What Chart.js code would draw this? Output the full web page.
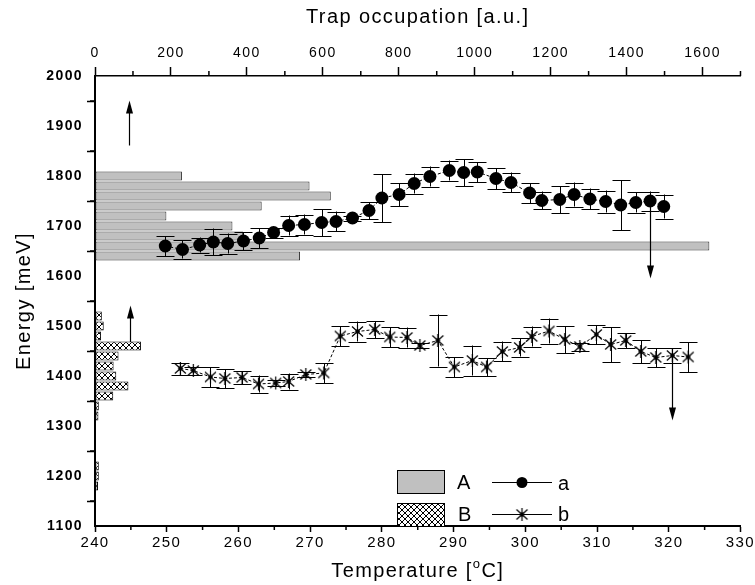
<!DOCTYPE html>
<html>
<head>
<meta charset="utf-8">
<title>Energy vs temperature</title>
<script src="https://cdn.jsdelivr.net/npm/chart.js@4.4.1/dist/chart.umd.min.js"></script>
<style>
  html, body { margin: 0; padding: 0; background: #fff; }
  #wrap { width: 755px; height: 585px; }
</style>
</head>
<body>
<div id="wrap"><canvas id="chart" width="755" height="585"></canvas></div>
<script>
// series a (circles): temperature [C], energy [meV], error [meV]
const tempA = [249.8, 252.2, 254.6, 256.5, 258.5, 260.7, 262.9, 264.9, 267.0, 269.2, 271.6, 273.6, 275.9, 278.2, 280.0, 282.4, 284.5, 286.7, 289.4, 291.4, 293.3, 295.9, 298.0, 300.6, 302.3, 304.8, 306.8, 309.0, 311.2, 313.3, 315.4, 317.4, 319.3];
const energyA = [1660, 1653, 1662, 1668, 1665, 1670, 1676, 1687, 1701, 1703, 1707, 1709, 1716, 1731, 1756, 1763, 1785, 1799, 1811, 1807, 1808, 1795, 1787, 1766, 1751, 1753, 1763, 1754, 1749, 1742, 1747, 1750, 1739];
const errA = [20, 18, 15, 27, 20, 18, 20, 10, 20, 20, 27, 20, 5, 17, 48, 23, 20, 20, 20, 27, 20, 21, 20, 20, 18, 27, 24, 21, 22, 50, 20, 19, 24];

// series b (stars)
const tempB = [251.9, 253.7, 256.1, 258.1, 260.5, 262.8, 265.2, 267.0, 269.4, 271.9, 274.2, 276.6, 279.0, 281.1, 283.5, 285.3, 287.8, 290.1, 292.6, 294.6, 296.8, 299.2, 300.9, 303.3, 305.5, 307.6, 309.9, 311.9, 314.0, 316.1, 318.2, 320.5, 322.7];
const energyB = [1415, 1411, 1398, 1395, 1397, 1384, 1386, 1389, 1403, 1406, 1480, 1489, 1493, 1478, 1477, 1461, 1471, 1418, 1431, 1418, 1449, 1457, 1479, 1490, 1473, 1459, 1483, 1463, 1471, 1449, 1437, 1441, 1438];
const errB = [12, 8, 20, 19, 13, 17, 6, 16, 5, 20, 20, 20, 17, 20, 20, 5, 52, 20, 30, 18, 20, 18, 20, 25, 27, 8, 19, 35, 15, 23, 19, 15, 30];

// trap occupation histograms (top axis)
const levelsA = [1800, 1780, 1760, 1740, 1720, 1700, 1680, 1660, 1640];
const occA = [229, 565, 621, 439, 188, 362, 390, 1618, 540];
const levelsB = [1520, 1500, 1480, 1460, 1440, 1420, 1400, 1380, 1360, 1340, 1320, 1220, 1200, 1180];
const occB = [18, 23, 16, 121, 62, 49, 56, 88, 48, 10, 9, 10, 10, 8];

// arrows: temperature, start energy, end energy
const arrowT = [244.7, 244.9, 317.4, 320.5];
const arrowFrom = [1861, 1468, 1750, 1441];
const arrowTo = [1951, 1541, 1595, 1311];

const FONT = "'Liberation Sans', Arial, Helvetica, sans-serif";

// cross hatch for histogram B
function makeHatch() {
    const c = document.createElement('canvas');
    c.width = 6; c.height = 6;
    const g = c.getContext('2d');
    g.fillStyle = '#fff';
    g.fillRect(0, 0, 6, 6);
    g.strokeStyle = '#000';
    g.lineWidth = 1;
    g.beginPath();
    g.moveTo(0, 0); g.lineTo(6, 6);
    g.moveTo(6, 0); g.lineTo(0, 6);
    g.stroke();
    return document.getElementById('chart').getContext('2d').createPattern(c, 'repeat');
}

// asterisk marker with a dot in the middle
function makeStar() {
    const c = document.createElement('canvas');
    c.width = 15; c.height = 15;
    const g = c.getContext('2d');
    g.strokeStyle = '#000';
    g.lineWidth = 1.2;
    g.beginPath();
    g.moveTo(7.5, 1); g.lineTo(7.5, 14);
    g.moveTo(2, 2.5); g.lineTo(13, 12.5);
    g.moveTo(13, 2.5); g.lineTo(2, 12.5);
    g.stroke();
    g.fillStyle = '#000';
    g.beginPath();
    g.arc(7.5, 7.5, 2.2, 0, Math.PI * 2);
    g.fill();
    return c;
}

const hatch = makeHatch();
const star = makeStar();

function drawArrow(ctx, x, y0, y1) {
    const dir = y1 < y0 ? 1 : -1;
    ctx.beginPath();
    ctx.moveTo(x, y0);
    ctx.lineTo(x, y1 + dir * 10);
    ctx.stroke();
    ctx.beginPath();
    ctx.moveTo(x, y1);
    ctx.lineTo(x - 3.5, y1 + dir * 13);
    ctx.lineTo(x + 3.5, y1 + dir * 13);
    ctx.closePath();
    ctx.fill();
}

const overlay = {
    id: 'overlay',
    beforeDraw(chart) {
        chart.ctx.letterSpacing = '1.4px';
    },
    afterDatasetsDraw(chart) {
        const ctx = chart.ctx;
        const xs = chart.scales.x, ys = chart.scales.y;
        ctx.save();
        ctx.letterSpacing = '0px';
        ctx.strokeStyle = '#000';
        ctx.fillStyle = '#000';
        ctx.lineWidth = 1;
        // error bars
        chart.data.datasets.forEach((ds, di) => {
            if (!ds.errors) return;
            chart.getDatasetMeta(di).data.forEach((pt, i) => {
                const v = ds.data[i].y, e = ds.errors[i];
                const x = Math.round(pt.x) + 0.5;
                const yt = ys.getPixelForValue(v + e), yb = ys.getPixelForValue(v - e);
                ctx.beginPath();
                ctx.moveTo(x, yt); ctx.lineTo(x, yb);
                ctx.moveTo(x - 9, Math.round(yt) + 0.5); ctx.lineTo(x + 9, Math.round(yt) + 0.5);
                ctx.moveTo(x - 9, Math.round(yb) + 0.5); ctx.lineTo(x + 9, Math.round(yb) + 0.5);
                ctx.stroke();
            });
        });
        // arrows
        ctx.lineWidth = 1.2;
        arrowT.forEach((t, i) => {
            drawArrow(ctx, Math.round(xs.getPixelForValue(t)) + 0.5,
                ys.getPixelForValue(arrowFrom[i]), ys.getPixelForValue(arrowTo[i]));
        });
        ctx.restore();
    },
    afterDraw(chart) {
        const ctx = chart.ctx;
        const {x, x2, y} = chart.scales;
        ctx.save();
        ctx.strokeStyle = '#000';
        ctx.fillStyle = '#000';
        ctx.lineWidth = 1.5;
        // minor ticks
        ctx.beginPath();
        for (let v = 245; v < 330; v += 10) {
            const px = x.getPixelForValue(v);
            ctx.moveTo(px, x.top); ctx.lineTo(px, x.top + 4);
        }
        for (let v = 100; v <= 1700; v += 200) {
            const px = x2.getPixelForValue(v);
            ctx.moveTo(px, x2.bottom); ctx.lineTo(px, x2.bottom - 5);
        }
        for (let v = 1150; v < 2000; v += 100) {
            const py = y.getPixelForValue(v);
            ctx.moveTo(y.right, py); ctx.lineTo(y.right - 5, py);
        }
        ctx.stroke();

        // bottom axis title with superscript degree
        ctx.letterSpacing = '1.4px';
        ctx.textBaseline = 'alphabetic';
        ctx.textAlign = 'left';
        const big = '20px ' + FONT, small = '13px ' + FONT;
        ctx.font = big;
        const w1 = ctx.measureText('Temperature [').width;
        const w3 = ctx.measureText('C]').width;
        ctx.font = small;
        const w2 = ctx.measureText('o').width;
        const cx = (x.left + x.right) / 2;
        let sx = cx - (w1 + w2 + w3) / 2;
        const base = 577;
        ctx.font = big;
        ctx.fillText('Temperature [', sx, base);
        ctx.font = small;
        ctx.fillText('o', sx + w1, base - 9);
        ctx.font = big;
        ctx.fillText('C]', sx + w1 + w2, base);

        // legend
        ctx.letterSpacing = '0px';
        ctx.lineWidth = 1;
        ctx.fillStyle = '#c0c0c0';
        ctx.fillRect(397, 470, 47, 23);
        ctx.strokeRect(397.5, 470.5, 47, 23);
        ctx.fillStyle = hatch;
        ctx.fillRect(397, 503, 47, 23);
        ctx.strokeRect(397.5, 503.5, 47, 23);
        ctx.fillStyle = '#000';
        ctx.font = '20px ' + FONT;
        ctx.textBaseline = 'middle';
        ctx.fillText('A', 457, 483);
        ctx.fillText('B', 458, 515);
        ctx.fillText('a', 558, 484);
        ctx.fillText('b', 558, 515);
        ctx.beginPath();
        ctx.moveTo(492, 482.5); ctx.lineTo(552, 482.5);
        ctx.moveTo(492, 514.5); ctx.lineTo(552, 514.5);
        ctx.stroke();
        ctx.beginPath();
        ctx.arc(522, 482.5, 5.5, 0, Math.PI * 2);
        ctx.fill();
        ctx.drawImage(star, 522 - 7.5, 514.5 - 7.5);
        ctx.restore();
    }
};

const tickFont = { family: FONT, size: 14 };
const plain = v => String(v);

new Chart(document.getElementById('chart'), {
    type: 'line',
    data: {
        datasets: [
            {
                type: 'line',
                label: 'a',
                data: tempA.map((t, i) => ({ x: t, y: energyA[i] })),
                errors: errA,
                xAxisID: 'x',
                yAxisID: 'y',
                borderColor: '#000',
                borderWidth: 1,
                borderDash: [3, 2],
                pointStyle: 'circle',
                pointRadius: 6.5,
                pointBackgroundColor: '#000',
                pointBorderColor: '#000',
                pointBorderWidth: 0,
                fill: false,
                tension: 0,
                order: 1
            },
            {
                type: 'line',
                label: 'b',
                data: tempB.map((t, i) => ({ x: t, y: energyB[i] })),
                errors: errB,
                xAxisID: 'x',
                yAxisID: 'y',
                borderColor: '#000',
                borderWidth: 1,
                borderDash: [3, 2],
                pointStyle: star,
                pointRadius: 7,
                fill: false,
                tension: 0,
                order: 1
            },
            {
                type: 'bar',
                label: 'A',
                indexAxis: 'y',
                data: levelsA.map((e, i) => ({ x: occA[i], y: e })),
                xAxisID: 'x2',
                yAxisID: 'y',
                grouped: false,
                categoryPercentage: 1,
                barPercentage: 0.9,
                backgroundColor: '#c0c0c0',
                borderColor: '#333',
                borderWidth: 1,
                borderSkipped: false,
                order: 2
            },
            {
                type: 'bar',
                label: 'B',
                indexAxis: 'y',
                data: levelsB.map((e, i) => ({ x: occB[i], y: e })),
                xAxisID: 'x2',
                yAxisID: 'y',
                grouped: false,
                categoryPercentage: 1,
                barPercentage: 0.9,
                backgroundColor: hatch,
                borderColor: '#000',
                borderWidth: 1,
                borderSkipped: false,
                order: 2
            }
        ]
    },
    options: {
        responsive: false,
        animation: false,
        devicePixelRatio: 1,
        events: [],
        layout: { padding: { left: 0, right: 14, top: 0, bottom: 0 } },
        plugins: {
            legend: { display: false },
            tooltip: { enabled: false }
        },
        scales: {
            x: {
                type: 'linear',
                position: 'bottom',
                min: 240,
                max: 330,
                offset: false,
                afterFit: s => { s.height = 59; },
                border: { color: '#000', width: 2 },
                grid: { drawOnChartArea: false, tickLength: 6, tickColor: '#000', tickWidth: 1.5 },
                ticks: { stepSize: 10, color: '#000', font: { family: FONT, size: 15 }, padding: 2, maxRotation: 0, autoSkip: false, callback: plain }
            },
            x2: {
                type: 'linear',
                position: 'top',
                min: 0,
                max: 1700,
                offset: false,
                afterFit: s => { s.height = 76; },
                border: { color: '#000', width: 1.5 },
                grid: { drawOnChartArea: false, tickLength: 9, tickColor: '#000', tickWidth: 1.5 },
                ticks: { stepSize: 200, includeBounds: false, color: '#000', font: tickFont, padding: 5, maxRotation: 0, autoSkip: false, callback: plain },
                title: {
                    display: true,
                    text: 'Trap occupation [a.u.]',
                    color: '#000',
                    font: { family: FONT, size: 20 },
                    padding: { top: 5, bottom: 0 }
                }
            },
            y: {
                type: 'linear',
                position: 'left',
                min: 1100,
                max: 2000,
                offset: false,
                afterFit: s => { s.width = 95; },
                border: { color: '#000', width: 2 },
                grid: { drawOnChartArea: false, tickLength: 8, tickColor: '#000', tickWidth: 1.5 },
                ticks: { stepSize: 100, color: '#000', font: { family: FONT, size: 14, weight: 'bold' }, padding: 4, autoSkip: false, callback: plain },
                title: {
                    display: true,
                    text: 'Energy [meV]',
                    color: '#000',
                    font: { family: FONT, size: 20 },
                    padding: { top: 12, bottom: 0 }
                }
            }
        }
    },
    plugins: [overlay]
});
</script>
</body>
</html>
